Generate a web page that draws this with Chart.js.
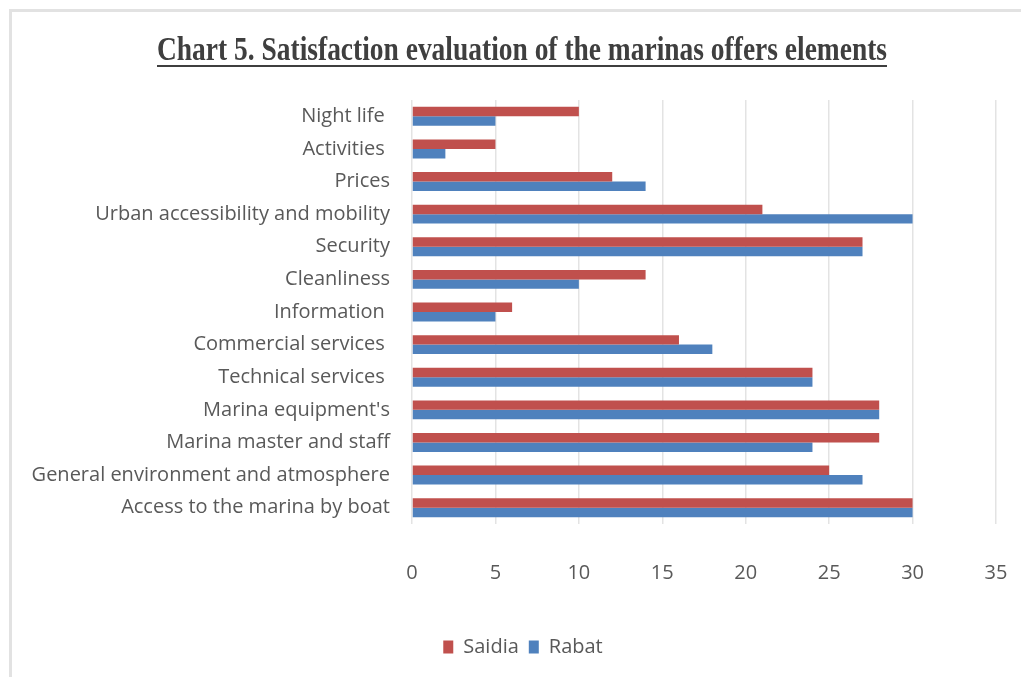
<!DOCTYPE html>
<html>
<head>
<meta charset="utf-8">
<script src="https://cdn.jsdelivr.net/npm/chart.js@4/dist/chart.umd.min.js"></script>
<style>
  html, body { margin: 0; padding: 0; background: #ffffff; overflow: hidden; }
  #frame { position: absolute; left: 9px; top: 9px; width: 1100px; height: 800px;
           border-left: 3px solid #e2e2e2; border-top: 3px solid #e2e2e2; }
  #wrap { position: absolute; left: 0; top: 0; width: 1021px; height: 677px; }
</style>
</head>
<body>
<div id="frame"></div>
<div id="wrap"><canvas id="c" width="1021" height="677"></canvas></div>
<script>
const titleText = "Chart 5. Satisfaction evaluation of the marinas offers elements";
const categories = [
  "Night life ",
  "Activities ",
  "Prices",
  "Urban accessibility and mobility",
  "Security",
  "Cleanliness",
  "Information ",
  "Commercial services ",
  "Technical services ",
  "Marina equipment's",
  "Marina master and staff",
  "General environment and atmosphere",
  "Access to the marina by boat"
];
const saidia = [10, 5, 12, 21, 27, 14, 6, 16, 24, 28, 28, 25, 30];
const rabat  = [5, 2, 14, 30, 27, 10, 5, 18, 24, 28, 24, 27, 30];
const xTicks = [0, 5, 10, 15, 20, 25, 30, 35];

const labelFont = { family: "'Open Sans', 'DejaVu Sans', sans-serif", size: 20 };
const labelColor = "#595959";

const titlePlugin = {
  id: 'underlinedTitle',
  afterDraw(chart) {
    const ctx = chart.ctx;
    ctx.save();
    ctx.font = "bold 33px 'Liberation Serif', 'Times New Roman', serif";
    ctx.fillStyle = "#3f3f3f";
    ctx.textAlign = "center";
    ctx.textBaseline = "alphabetic";
    const w = ctx.measureText(titleText).width;
    const targetW = 730;
    const sx = targetW / w;
    const cx = 522;
    ctx.translate(cx, 60);
    ctx.scale(sx, 1);
    ctx.fillText(titleText, 0, 0);
    ctx.restore();
    ctx.save();
    ctx.strokeStyle = "#3f3f3f";
    ctx.lineWidth = 2;
    ctx.beginPath();
    ctx.moveTo(cx - targetW / 2, 66);
    ctx.lineTo(cx + targetW / 2, 66);
    ctx.stroke();
    ctx.restore();
  }
};

new Chart(document.getElementById('c'), {
  type: 'bar',
  data: {
    labels: categories,
    datasets: [
      { label: 'Saidia', data: saidia, backgroundColor: '#C0504D', borderWidth: 0 },
      { label: 'Rabat', data: rabat, backgroundColor: '#4F81BD', borderWidth: 0 }
    ]
  },
  options: {
    indexAxis: 'y',
    responsive: false,
    animation: false,
    devicePixelRatio: 1,
    layout: { padding: { top: 100, left: 25, right: 0, bottom: 10 } },
    datasets: { bar: { categoryPercentage: 0.58, barPercentage: 1.0 } },
    scales: {
      x: {
        min: 0, max: 35,
        afterBuildTicks(scale) { scale.ticks = xTicks.map(v => ({ value: v })); },
        afterFit(scale) { scale.height = 103; scale.paddingLeft = 0; scale.paddingRight = 25; },
        grid: { color: '#e3e3e3', lineWidth: 1.5, drawTicks: false },
        border: { display: false },
        ticks: { font: labelFont, color: labelColor, padding: 37 }
      },
      y: {
        afterFit(scale) { scale.width = 387; },
        grid: { display: false, drawTicks: false },
        border: { display: false },
        ticks: { font: labelFont, color: labelColor, padding: 22, autoSkip: false }
      }
    },
    plugins: {
      legend: {
        position: 'bottom',
        labels: { font: labelFont, color: labelColor, boxWidth: 10, boxHeight: 13, padding: 10 }
      },
      title: { display: false },
      tooltip: { enabled: false }
    }
  },
  plugins: [titlePlugin]
});
</script>
</body>
</html>
